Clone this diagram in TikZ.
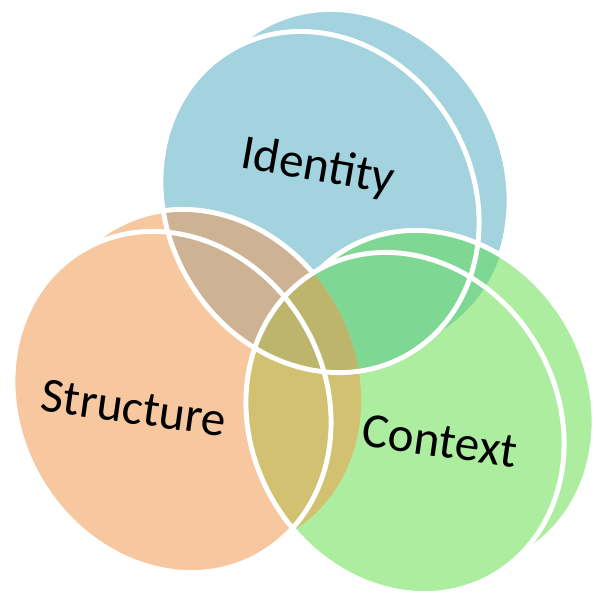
\documentclass[tikz,border=0pt]{standalone}
\usepackage{fontspec}
\setmainfont{Carlito}
\usepackage{tikz}

\definecolor{idblue}{HTML}{A3D3DE}
\definecolor{storange}{HTML}{F7C8A0}
\definecolor{ctgreen}{HTML}{ADEDA0}
\definecolor{idst}{HTML}{CDB294}
\definecolor{idct}{HTML}{7ED893}
\definecolor{stct}{HTML}{D1C170}
\definecolor{allthree}{HTML}{BDB56C}

% one tilted disk face, and the disk with its thickness
\newcommand{\faceshape}{ellipse [x radius=153, y radius=176, rotate=30]}
\newcommand{\diskshape}[1]{foreach \t in {0,0.125,...,1} {(#1) ++(30*\t,-22*\t) \faceshape}}
% white rim on the far side of a disk
\newcommand{\backrim}[1]{%
	\begin{scope}[even odd rule]
		\clip (-20,-20) rectangle (620,620) (#1) \faceshape;
		\draw[rim] (#1) ++(30,-22) \faceshape;
	\end{scope}}

\tikzset{
  rim/.style={draw=white, line width=2.8pt},
  venntext/.style={font=\fontsize{28}{34}\selectfont, text=black}
}

\begin{document}
\begin{tikzpicture}[x=0.02cm, y=-0.02cm]
	\useasboundingbox (0,0) rectangle (596,596);
	\coordinate (identity) at (320,202);
	\coordinate (structure) at (172,402);
	\coordinate (context) at (405,423);

	% identity
	\fill[idblue] \diskshape{identity};
	\backrim{identity}

	% structure
	\fill[storange] \diskshape{structure};
	\begin{scope}
		\clip \diskshape{identity};
		\fill[idst] \diskshape{structure};
	\end{scope}
	\backrim{structure}

	% context
	\fill[ctgreen] \diskshape{context};
	\begin{scope}
		\clip \diskshape{identity};
		\fill[idct] \diskshape{context};
	\end{scope}
	\begin{scope}
		\clip \diskshape{structure};
		\fill[stct] \diskshape{context};
	\end{scope}
	\begin{scope}
		\clip \diskshape{identity};
		\clip \diskshape{structure};
		\fill[allthree] \diskshape{context};
	\end{scope}
	\backrim{context}

	% front rims
	\foreach \d in {identity,structure,context}
		\draw[rim] (\d) \faceshape;

	\node[venntext, rotate=-10] (idtext) at (318,168) {Identity};
	\node[venntext, rotate=-8] (sttext) at (134,408) {Structure};
	\node[venntext, rotate=-8] (cttext) at (440,441) {Context};
\end{tikzpicture}
\end{document}
